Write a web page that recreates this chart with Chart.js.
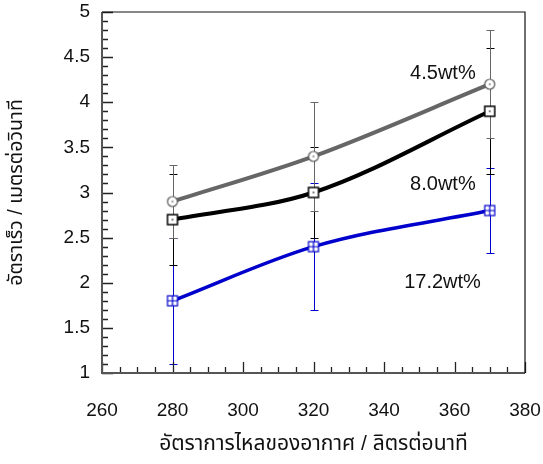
<!DOCTYPE html>
<html>
<head>
<meta charset="utf-8">
<script src="https://cdn.jsdelivr.net/npm/chart.js@4/dist/chart.umd.min.js"></script>
<style>
html,body{margin:0;padding:0;background:#fff;}
#wrap{width:543px;height:464px;position:relative;}
</style>
</head>
<body>
<div id="wrap"><canvas id="c" width="543" height="464"></canvas></div>
<script>
// ---- data ----
const airFlow = [280, 320, 370];
const speed45 = [2.9, 3.4, 4.2];
const err45 = [0.4, 0.6, 0.6];
const speed80 = [2.7, 3.0, 3.9];
const err80 = [0.5, 0.5, 0.7];
const speed172 = [1.8, 2.4, 2.8];
const err172 = [0.7, 0.7, 0.47];
const seriesLabels = ['4.5wt%', '8.0wt%', '17.2wt%'];
const labelX = [356.7, 356.7, 356.6];
const labelY = [4.32, 3.09, 2.0];
const xTitle = 'อัตราการไหลของอากาศ / ลิตรต่อนาที';
const yTitle = 'อัตราเร็ว / เมตรต่อวินาที';

const THAI = "'Liberation Sans', 'Noto Sans Thai', 'Noto Sans', 'DejaVu Sans', sans-serif";
const NUM = "'Liberation Sans', Arial, sans-serif";

function makeMarker(kind) {
  const s = 14;
  const cv = document.createElement('canvas');
  cv.width = s; cv.height = s;
  const g = cv.getContext('2d');
  const c = s / 2;
  if (kind === 'circle') {
    g.beginPath(); g.arc(c, c, 5, 0, Math.PI * 2);
    g.fillStyle = '#fff'; g.fill();
    g.lineWidth = 1.2; g.strokeStyle = '#555'; g.stroke();
    g.fillStyle = '#444'; g.fillRect(c - 0.7, c - 0.7, 1.4, 1.4);
  } else if (kind === 'square') {
    g.fillStyle = '#fff'; g.fillRect(c - 5, c - 5, 10, 10);
    g.lineWidth = 1.5; g.strokeStyle = '#000'; g.strokeRect(c - 5, c - 5, 10, 10);
    g.fillStyle = '#000'; g.fillRect(c - 0.7, c - 0.7, 1.4, 1.4);
  } else {
    g.fillStyle = '#fff'; g.fillRect(c - 5, c - 5, 10, 10);
    g.lineWidth = 1.2; g.strokeStyle = '#0000cc'; g.strokeRect(c - 5, c - 5, 10, 10);
    g.beginPath(); g.moveTo(c - 5, c); g.lineTo(c + 5, c); g.moveTo(c, c - 5); g.lineTo(c, c + 5); g.stroke();
  }
  return cv;
}

const errs = [err172, err80, err45];
const errColors = ['#0000cc', '#000000', '#666666'];

const errorBarPlugin = {
  id: 'errbars',
  beforeDatasetsDraw(chart) {
    const ctx = chart.ctx;
    const xs = chart.scales.x, ys = chart.scales.y;
    chart.data.datasets.forEach((ds, i) => {
      ctx.save();
      ctx.strokeStyle = errColors[i];
      ctx.lineWidth = 1;
      ds.data.forEach((p, j) => {
        const e = errs[i][j];
        const px = Math.round(xs.getPixelForValue(p.x)) + 0.5;
        const yt = Math.round(ys.getPixelForValue(p.y + e)) + 0.5;
        const yb = Math.round(ys.getPixelForValue(p.y - e)) + 0.5;
        ctx.beginPath();
        ctx.moveTo(px, yt); ctx.lineTo(px, yb);
        ctx.moveTo(px - 4, yt); ctx.lineTo(px + 4, yt);
        ctx.moveTo(px - 4, yb); ctx.lineTo(px + 4, yb);
        ctx.stroke();
      });
      ctx.restore();
    });
  }
};

const framePlugin = {
  id: 'frame',
  afterDraw(chart) {
    const ctx = chart.ctx;
    const a = chart.chartArea;
    const xs = chart.scales.x, ys = chart.scales.y;
    ctx.save();
    ctx.strokeStyle = '#222';
    ctx.lineWidth = 1.3;
    ctx.beginPath();
    for (let v = 260; v <= 380; v += 5) {
      const px = Math.round(xs.getPixelForValue(v)) + 0.5;
      const len = (v % 20 === 0) ? 11 : 6;
      ctx.moveTo(px, a.bottom); ctx.lineTo(px, a.bottom - len);
    }
    for (let k = 10; k <= 50; k++) {
      const v = k / 10;
      const py = Math.round(ys.getPixelForValue(v)) + 0.5;
      const len = (k % 5 === 0) ? 11 : 6;
      ctx.moveTo(a.left, py); ctx.lineTo(a.left + len, py);
    }
    ctx.stroke();
    ctx.strokeStyle = '#555';
    ctx.lineWidth = 2;
    ctx.beginPath();
    ctx.moveTo(a.left, a.top); ctx.lineTo(a.left, a.bottom); ctx.lineTo(a.right, a.bottom);
    ctx.stroke();
    ctx.strokeStyle = '#111';
    ctx.lineWidth = 1.2;
    ctx.beginPath();
    ctx.moveTo(a.left, a.top); ctx.lineTo(a.right, a.top); ctx.lineTo(a.right, a.bottom);
    ctx.stroke();
    ctx.fillStyle = '#111';
    ctx.font = '20px ' + NUM;
    ctx.textAlign = 'center';
    ctx.textBaseline = 'middle';
    seriesLabels.forEach((t, i) => {
      ctx.fillText(t, xs.getPixelForValue(labelX[i]), ys.getPixelForValue(labelY[i]));
    });
    ctx.restore();
  }
};

const toPts = (ys) => airFlow.map((x, i) => ({ x, y: ys[i] }));

new Chart(document.getElementById('c'), {
  type: 'line',
  data: {
    datasets: [
      { label: '17.2wt%', data: toPts(speed172), borderColor: '#0000cc', borderWidth: 3.5,
        pointStyle: makeMarker('cross'), pointRadius: 6, cubicInterpolationMode: 'monotone' },
      { label: '8.0wt%', data: toPts(speed80), borderColor: '#000000', borderWidth: 4,
        pointStyle: makeMarker('square'), pointRadius: 6, cubicInterpolationMode: 'monotone' },
      { label: '4.5wt%', data: toPts(speed45), borderColor: '#666666', borderWidth: 4,
        pointStyle: makeMarker('circle'), pointRadius: 6, cubicInterpolationMode: 'monotone' }
    ]
  },
  options: {
    responsive: false,
    animation: false,
    layout: { padding: { left: 0, right: 18, top: 12, bottom: 0 } },
    plugins: { legend: { display: false }, tooltip: { enabled: false } },
    scales: {
      x: {
        type: 'linear', min: 260, max: 380,
        grid: { display: false, drawTicks: false },
        border: { display: false },
        ticks: { stepSize: 20, padding: 26, color: '#111', font: { family: NUM, size: 19 } },
        title: { display: true, text: xTitle, color: '#111', font: { family: THAI, size: 21 }, padding: { top: 0, bottom: 7 } },
        afterFit(s) { s.height = 91; s.paddingLeft = 0; s.paddingRight = 0; s.paddingTop = 0; s.paddingBottom = 0; }
      },
      y: {
        type: 'linear', min: 1, max: 5,
        grid: { display: false, drawTicks: false },
        border: { display: false },
        ticks: { stepSize: 0.5, padding: 12, color: '#111', font: { family: NUM, size: 19 },
          callback: (v) => String(v) },
        title: { display: true, text: yTitle, color: '#111', font: { family: THAI, size: 19.5 }, padding: { top: 5, bottom: 0 } },
        afterFit(s) { s.width = 102; s.paddingLeft = 0; s.paddingRight = 0; s.paddingTop = 0; s.paddingBottom = 0; }
      }
    }
  },
  plugins: [errorBarPlugin, framePlugin]
});
</script>
</body>
</html>
